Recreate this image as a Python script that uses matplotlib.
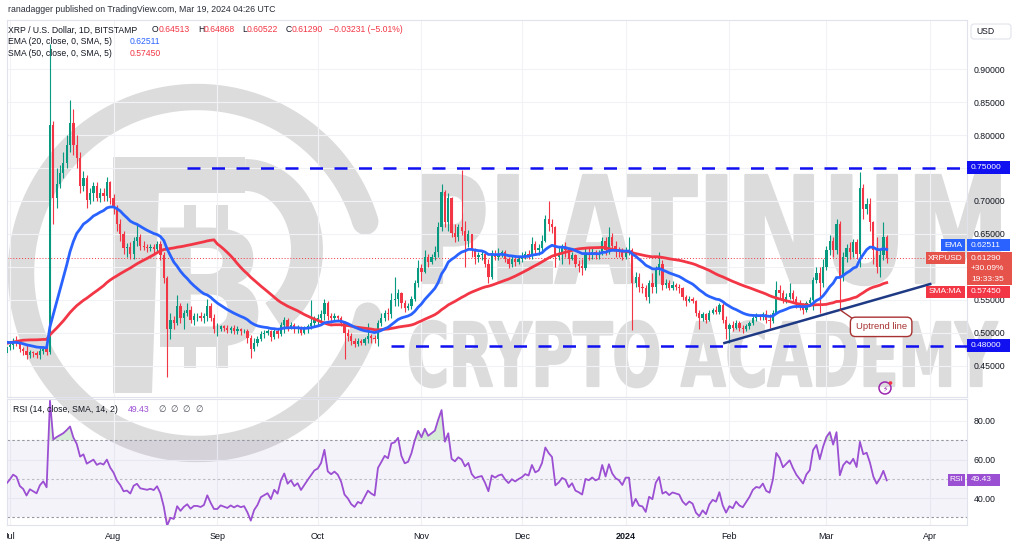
import numpy as np
import pandas as pd
import matplotlib
matplotlib.use("Agg")
import matplotlib.pyplot as plt
import matplotlib.dates as mdates
from matplotlib.patches import Rectangle, Polygon, Circle, FancyBboxPatch
from matplotlib.ticker import FuncFormatter, FormatStrFormatter
from matplotlib.transforms import Bbox, Affine2D
from matplotlib.patheffects import AbstractPathEffect

plt.rcParams['font.family'] = ['Liberation Sans', 'DejaVu Sans']

# ---- data -------------------------------------------------------------
# closes before the visible window (May 11 - Jun 29 2023), only used to warm up EMA/SMA/RSI
warmup_close = [0.420, 0.430, 0.428, 0.432, 0.440, 0.432, 0.452, 0.462, 0.468, 0.462,
                0.458, 0.462, 0.470, 0.460, 0.458, 0.468, 0.470, 0.478, 0.472, 0.500,
                0.518, 0.512, 0.522, 0.530, 0.538, 0.520, 0.530, 0.528, 0.520, 0.518,
                0.490, 0.510, 0.520, 0.518, 0.490, 0.478, 0.488, 0.482, 0.480, 0.482,
                0.490, 0.495, 0.502, 0.492, 0.484, 0.480, 0.478, 0.480, 0.472, 0.470]

first_day = '2023-06-30'
# daily candles (close, high, low); open = previous close
jul = [(0.478, 0.486, 0.466), (0.482, 0.488, 0.474), (0.487, 0.492, 0.476), (0.485, 0.495, 0.480),
       (0.476, 0.489, 0.471), (0.473, 0.479, 0.467), (0.466, 0.481, 0.460), (0.471, 0.474, 0.462),
       (0.469, 0.473, 0.464), (0.467, 0.472, 0.462), (0.473, 0.477, 0.461), (0.476, 0.480, 0.468),
       (0.471, 0.479, 0.466), (0.815, 0.938, 0.468), (0.705, 0.822, 0.665), (0.725, 0.750, 0.690),
       (0.742, 0.755, 0.720), (0.758, 0.775, 0.735), (0.785, 0.800, 0.750), (0.818, 0.853, 0.775),
       (0.785, 0.840, 0.770), (0.765, 0.800, 0.750), (0.722, 0.775, 0.712), (0.735, 0.745, 0.715),
       (0.702, 0.740, 0.690), (0.712, 0.720, 0.695), (0.722, 0.728, 0.700), (0.705, 0.728, 0.700),
       (0.712, 0.720, 0.698), (0.708, 0.720, 0.700), (0.728, 0.736, 0.700), (0.705, 0.730, 0.695)]
aug = [(0.690, 0.710, 0.680), (0.665, 0.694, 0.655), (0.650, 0.672, 0.640), (0.628, 0.655, 0.620),
       (0.630, 0.636, 0.615), (0.620, 0.638, 0.612), (0.640, 0.645, 0.612), (0.645, 0.666, 0.632),
       (0.632, 0.650, 0.625), (0.630, 0.640, 0.625), (0.628, 0.634, 0.622), (0.630, 0.634, 0.624),
       (0.627, 0.634, 0.620), (0.634, 0.640, 0.622), (0.618, 0.640, 0.610), (0.583, 0.622, 0.575),
       (0.505, 0.586, 0.433), (0.520, 0.530, 0.490), (0.515, 0.525, 0.505), (0.540, 0.557, 0.512),
       (0.522, 0.545, 0.515), (0.530, 0.535, 0.505), (0.535, 0.545, 0.525), (0.520, 0.540, 0.515),
       (0.525, 0.530, 0.512), (0.525, 0.530, 0.518), (0.522, 0.532, 0.518), (0.525, 0.530, 0.515),
       (0.540, 0.552, 0.518), (0.522, 0.545, 0.518), (0.505, 0.528, 0.500)]
sep = [(0.505, 0.515, 0.495), (0.510, 0.512, 0.502), (0.507, 0.512, 0.502), (0.504, 0.512, 0.500),
       (0.507, 0.510, 0.500), (0.503, 0.512, 0.498), (0.505, 0.510, 0.498), (0.502, 0.508, 0.497),
       (0.503, 0.506, 0.499), (0.492, 0.505, 0.485), (0.475, 0.496, 0.462), (0.485, 0.492, 0.472),
       (0.490, 0.495, 0.480), (0.498, 0.502, 0.487), (0.500, 0.504, 0.492), (0.502, 0.506, 0.496),
       (0.494, 0.504, 0.488), (0.503, 0.508, 0.490), (0.498, 0.508, 0.492), (0.512, 0.516, 0.495),
       (0.520, 0.524, 0.500), (0.508, 0.522, 0.502), (0.512, 0.516, 0.505), (0.505, 0.515, 0.500),
       (0.508, 0.512, 0.500), (0.500, 0.510, 0.497), (0.505, 0.510, 0.498), (0.510, 0.513, 0.500),
       (0.515, 0.550, 0.505), (0.520, 0.525, 0.510)]
oct_ = [(0.522, 0.528, 0.512), (0.528, 0.535, 0.515), (0.545, 0.552, 0.520), (0.525, 0.548, 0.520),
        (0.522, 0.530, 0.515), (0.525, 0.530, 0.518), (0.522, 0.527, 0.518), (0.515, 0.525, 0.510),
        (0.500, 0.518, 0.460), (0.495, 0.505, 0.488), (0.487, 0.500, 0.482), (0.483, 0.492, 0.478),
        (0.487, 0.492, 0.480), (0.485, 0.490, 0.481), (0.490, 0.494, 0.482), (0.495, 0.515, 0.485),
        (0.492, 0.498, 0.485), (0.490, 0.497, 0.484), (0.515, 0.520, 0.480), (0.522, 0.530, 0.510),
        (0.530, 0.535, 0.518), (0.528, 0.537, 0.520), (0.550, 0.560, 0.522), (0.552, 0.585, 0.540),
        (0.560, 0.566, 0.540), (0.545, 0.562, 0.538), (0.538, 0.550, 0.532), (0.540, 0.545, 0.535),
        (0.552, 0.556, 0.536), (0.575, 0.580, 0.548), (0.598, 0.610, 0.570)]
nov = [(0.592, 0.605, 0.578), (0.615, 0.625, 0.590), (0.608, 0.620, 0.600), (0.615, 0.620, 0.605),
       (0.622, 0.632, 0.610), (0.660, 0.668, 0.615), (0.714, 0.725, 0.655), (0.668, 0.716, 0.660),
       (0.705, 0.712, 0.655), (0.652, 0.706, 0.645), (0.646, 0.665, 0.638), (0.660, 0.665, 0.640),
       (0.655, 0.747, 0.648), (0.640, 0.670, 0.600), (0.650, 0.656, 0.630), (0.625, 0.650, 0.615),
       (0.615, 0.628, 0.605), (0.618, 0.622, 0.608), (0.620, 0.625, 0.610), (0.605, 0.622, 0.600),
       (0.585, 0.612, 0.575), (0.620, 0.625, 0.582), (0.615, 0.625, 0.610), (0.620, 0.628, 0.610),
       (0.622, 0.626, 0.615), (0.612, 0.625, 0.608), (0.605, 0.615, 0.598), (0.612, 0.618, 0.600),
       (0.608, 0.618, 0.602), (0.612, 0.616, 0.605)]
dec = [(0.615, 0.622, 0.608), (0.620, 0.624, 0.612), (0.618, 0.625, 0.612), (0.635, 0.645, 0.612),
       (0.625, 0.640, 0.618), (0.628, 0.635, 0.618), (0.640, 0.648, 0.622), (0.672, 0.678, 0.638),
       (0.665, 0.700, 0.655), (0.660, 0.672, 0.652), (0.615, 0.662, 0.600), (0.620, 0.632, 0.610),
       (0.628, 0.635, 0.605), (0.625, 0.638, 0.615), (0.612, 0.630, 0.605), (0.618, 0.622, 0.610),
       (0.605, 0.620, 0.600), (0.602, 0.610, 0.592), (0.598, 0.612, 0.588), (0.620, 0.628, 0.595),
       (0.618, 0.628, 0.610), (0.622, 0.628, 0.612), (0.618, 0.625, 0.612), (0.620, 0.625, 0.612),
       (0.640, 0.645, 0.618), (0.625, 0.645, 0.618), (0.645, 0.660, 0.620), (0.632, 0.652, 0.625),
       (0.625, 0.640, 0.615), (0.622, 0.630, 0.615), (0.615, 0.628, 0.610)]
jan = [(0.625, 0.630, 0.612), (0.625, 0.645, 0.618), (0.575, 0.628, 0.504), (0.585, 0.592, 0.570),
       (0.570, 0.590, 0.562), (0.568, 0.575, 0.560), (0.555, 0.572, 0.550), (0.575, 0.580, 0.545),
       (0.570, 0.590, 0.560), (0.595, 0.602, 0.560), (0.605, 0.622, 0.588), (0.572, 0.610, 0.565),
       (0.575, 0.582, 0.568), (0.568, 0.580, 0.565), (0.572, 0.578, 0.565), (0.570, 0.576, 0.565),
       (0.568, 0.574, 0.560), (0.555, 0.570, 0.550), (0.548, 0.558, 0.540), (0.552, 0.556, 0.546),
       (0.548, 0.555, 0.545), (0.530, 0.550, 0.525), (0.522, 0.535, 0.505), (0.528, 0.532, 0.518),
       (0.520, 0.530, 0.515), (0.530, 0.534, 0.518), (0.535, 0.538, 0.528), (0.532, 0.540, 0.528),
       (0.542, 0.545, 0.528), (0.520, 0.545, 0.515), (0.505, 0.525, 0.490)]
feb = [(0.512, 0.515, 0.485), (0.508, 0.518, 0.503), (0.515, 0.520, 0.505), (0.508, 0.518, 0.502),
       (0.505, 0.512, 0.500), (0.510, 0.514, 0.502), (0.515, 0.518, 0.505), (0.522, 0.525, 0.512),
       (0.525, 0.530, 0.518), (0.524, 0.528, 0.520), (0.528, 0.532, 0.520), (0.520, 0.535, 0.515),
       (0.518, 0.528, 0.508), (0.530, 0.535, 0.515), (0.565, 0.578, 0.528), (0.560, 0.572, 0.552),
       (0.550, 0.565, 0.545), (0.555, 0.560, 0.545), (0.560, 0.575, 0.552), (0.552, 0.565, 0.545),
       (0.545, 0.556, 0.538), (0.540, 0.550, 0.535), (0.535, 0.545, 0.528), (0.545, 0.548, 0.532),
       (0.550, 0.554, 0.540), (0.580, 0.585, 0.535), (0.590, 0.600, 0.575), (0.575, 0.600, 0.530),
       (0.600, 0.612, 0.570)]
mar = [(0.625, 0.632, 0.595), (0.640, 0.648, 0.618), (0.625, 0.645, 0.615), (0.665, 0.672, 0.620),
       (0.585, 0.670, 0.535), (0.615, 0.622, 0.578), (0.628, 0.635, 0.608), (0.622, 0.638, 0.612),
       (0.638, 0.642, 0.615), (0.620, 0.642, 0.612), (0.720, 0.744, 0.600), (0.688, 0.725, 0.672),
       (0.695, 0.705, 0.680), (0.668, 0.705, 0.655), (0.625, 0.670, 0.605), (0.600, 0.645, 0.590),
       (0.618, 0.625, 0.585), (0.64513, 0.668, 0.610), (0.6129, 0.64868, 0.60522)]

# values printed in the legends / price scale
ohlc_text = ['0.64513', '0.64868', '0.60522', '0.61290']
change_text = '\u22120.03231 (\u22125.01%)'
ema_last, sma_last, rsi_last = 0.62511, 0.57450, 49.43
levels = [0.75, 0.48]
level_start = ['2023-08-23', '2023-10-23']
trend_dates = ['2024-01-30 12:00', '2024-04-01 00:00']
trend_prices = [0.4845, 0.574]
month_ticks = ['2023-07-01', '2023-08-01', '2023-09-01', '2023-10-01', '2023-11-01',
               '2023-12-01', '2024-01-01', '2024-02-01', '2024-03-01', '2024-04-01']
month_labels = ['Jul', 'Aug', 'Sep', 'Oct', 'Nov', 'Dec', '2024', 'Feb', 'Mar', 'Apr']

# ---- series -----------------------------------------------------------
candles = jul + aug + sep + oct_ + nov + dec + jan + feb + mar
close = np.array([c[0] for c in candles])
high = np.array([c[1] for c in candles])
low = np.array([c[2] for c in candles])
opens = np.r_[warmup_close[-1], close[:-1]]
high = np.maximum(high, np.maximum(opens, close))
low = np.minimum(low, np.minimum(opens, close))
dates = pd.date_range(first_day, periods=len(candles), freq='D')
xd = mdates.date2num(dates)

full = pd.Series(np.r_[warmup_close, close])
n = len(close)
ema = full.ewm(span=20, adjust=False).mean().values[-n:]
sma = full.rolling(50).mean().values[-n:]
delta = full.diff()
gain = delta.clip(lower=0).ewm(alpha=1/14, adjust=False).mean()
loss = (-delta.clip(upper=0)).ewm(alpha=1/14, adjust=False).mean()
rsi = (100 - 100 / (1 + gain / loss)).values[-n:]

# ---- figure -----------------------------------------------------------
W, H = 1024, 547
GREEN, RED = '#089981', '#f23645'
BLUE = '#2962ff'
LVL = '#1010f0'
PURPLE = '#9b4fd2'
TXT = '#131722'
GRID = '#f0f2f6'
EDGE = '#e0e3eb'
WM = '#dcdcdc'
PX_DAY = 3.347

fig = plt.figure(figsize=(W / 100, H / 100), dpi=100, facecolor='white')
bg = fig.add_axes([0, 0, 1, 1], zorder=0)
bg.set_xlim(0, W); bg.set_ylim(H, 0); bg.axis('off')
ax = fig.add_axes([7 / W, 1 - 397 / H, 960 / W, 377 / H], zorder=2)
rax = fig.add_axes([7 / W, 1 - 525 / H, 960 / W, 126 / H], zorder=2, sharex=ax)
ov = fig.add_axes([0, 0, 1, 1], zorder=5)
ov.set_xlim(0, W); ov.set_ylim(H, 0); ov.axis('off')
rend = fig.canvas.get_renderer()


class Tall(AbstractPathEffect):
    """stretch glyphs vertically about the baseline yb (display px) and thicken them a bit"""
    def __init__(self, sy, yb, lw):
        super().__init__()
        self.sy, self.yb, self.lw = sy, yb, lw

    def draw_path(self, renderer, gc, tpath, affine, rgbFace=None):
        aff = affine + Affine2D().translate(0, -self.yb).scale(1, self.sy).translate(0, self.yb)
        gc0 = renderer.new_gc()
        gc0.copy_properties(gc)
        gc0.set_linewidth(self.lw)
        gc0.set_foreground(rgbFace)
        gc0.set_joinstyle('round')
        renderer.draw_path(gc0, tpath, aff, rgbFace)
        gc0.restore()


# watermark
th = np.radians(np.linspace(17, 346, 300))
bg.plot(197 + 176 * np.cos(th), 273 - 176 * np.sin(th), color=WM, lw=19, solid_capstyle='round')
bg.add_patch(Polygon([(113, 157), (160, 157), (152, 393), (113, 393)], color=WM, lw=0))
bg.add_patch(Rectangle((113, 157), 132, 36, color=WM, lw=0))
tb = np.radians(np.linspace(90, -62, 100))
bg.plot(245 + 62 * np.cos(tb), 250 - 75 * np.sin(tb), color=WM, lw=23, solid_capstyle='butt')
bg.text(207, 347, 'B', fontsize=118, fontweight='bold', family='DejaVu Sans', color=WM,
        ha='center', va='baseline')
for bx in (190, 222):
    bg.add_patch(Rectangle((bx - 6, 205), 12, 24, color=WM, lw=0))
    bg.add_patch(Rectangle((bx - 6, 344), 12, 24, color=WM, lw=0))


def fit_text(x0, x1, base, cap, s):
    t = bg.text(x0, base, s, fontsize=50, fontweight='bold', color=WM, ha='left',
                va='baseline', family='DejaVu Sans')
    w = t.get_window_extent(rend).width
    size = 50 * (x1 - x0) / w
    t.set_fontsize(size)
    sy = cap / (0.729 * size * 100 / 72)
    t.set_path_effects([Tall(sy, H - base, 1.6)])


fit_text(413, 1010, 283, 108, 'PLATINUM')
fit_text(407, 998, 386, 64, 'CRYPTO ACADEMY')

# axes setup
x_left = mdates.date2num(pd.Timestamp('2023-07-01')) - 2.8 / PX_DAY
x_right = x_left + 960 / PX_DAY
ax.set_xlim(x_left, x_right)
ax.set_ylim(0.4026, 0.9745)
rax.set_ylim(26.1, 91.4)
for a in (ax, rax):
    a.set_facecolor('none')
    for sp in a.spines.values():
        sp.set_color(EDGE)
        sp.set_linewidth(0.8)
    a.yaxis.tick_right()
    a.tick_params(axis='y', length=0, pad=5, labelsize=6.3, labelcolor=TXT)
    a.grid(True, color=GRID, lw=0.8, zorder=0)
    a.set_axisbelow(True)

ax.set_yticks(np.arange(0.45, 0.901, 0.05))
# the 0.60000 label sits under the last-price tag, as on the reference
ax.yaxis.set_major_formatter(FuncFormatter(lambda v, p: '' if abs(v - 0.60) < 1e-6 else f'{v:.5f}'))
ax.tick_params(axis='x', length=0, labelbottom=False)
rax.set_yticks([40, 60, 80])
rax.yaxis.set_major_formatter(FormatStrFormatter('%.2f'))
rax.set_xticks(mdates.date2num(pd.to_datetime(month_ticks)))
rax.set_xticklabels(month_labels)
rax.tick_params(axis='x', length=0, pad=5, labelsize=6.5, labelcolor=TXT)
clip = Bbox([[7, 0], [967, H]])
for i, lbl in enumerate(rax.get_xticklabels()):
    if month_labels[i] == '2024':
        lbl.set_fontweight('bold')
    lbl.set_clip_box(clip)
    lbl.set_clip_on(True)

# candles
col = np.where(close >= opens, GREEN, RED)
ax.vlines(xd, low, high, colors=col, lw=0.8, zorder=3)
body = np.maximum(np.abs(close - opens), 0.0012)
ax.bar(xd, body, bottom=np.minimum(opens, close), width=0.68, color=col, lw=0, zorder=4)

ax.plot(xd, sma, color=RED, lw=2.0, zorder=5)
ax.plot(xd, ema, color=BLUE, lw=2.0, zorder=5)
ax.axhline(close[-1], color=RED, lw=0.7, ls=(0, (1, 2)), zorder=2)

for lvl, st in zip(levels, level_start):
    ax.plot([mdates.date2num(pd.Timestamp(st)), x_right], [lvl, lvl], color=LVL, lw=1.8,
            dashes=(5.2, 4.6), dash_capstyle='butt', zorder=6)

ax.plot([mdates.date2num(pd.Timestamp(d)) for d in trend_dates], trend_prices,
        color='#1f3a84', lw=1.8, zorder=6)
ax.annotate('Uptrend line', xy=(mdates.date2num(pd.Timestamp('2024-03-05')), 0.535),
            xytext=(mdates.date2num(pd.Timestamp('2024-03-17 08:00')), 0.509),
            ha='center', va='center', fontsize=6.8, color='#a83232', zorder=7,
            bbox=dict(boxstyle='round,pad=0.55', fc='white', ec='#a83232', lw=1.0),
            arrowprops=dict(arrowstyle='-', color='#a83232', lw=1.0, shrinkA=0, shrinkB=0,
                            relpos=(0.06, 0.95)))

# RSI pane
rax.axhspan(30, 70, color='#7e57c2', alpha=0.07, lw=0, zorder=1)
for lv, al in [(70, 1.0), (50, 0.6), (30, 1.0)]:
    rax.axhline(lv, color='#9598a1', lw=0.8, dashes=(2.2, 2.2), alpha=al, zorder=2)
rax.fill_between(xd, 70, rsi, where=rsi > 70, interpolate=True, color='#4caf50', alpha=0.22, lw=0)
rax.fill_between(xd, 30, rsi, where=rsi < 30, interpolate=True, color=RED, alpha=0.15, lw=0)
rax.plot(xd, rsi, color=PURPLE, lw=1.3, zorder=4)


# ---- overlay texts / tags ----------------------------------------------
def py(a, v):
    return H - a.transData.transform((x_left, v))[1]


def box(x0, x1, yc, h, color, text, ha='left'):
    ov.add_patch(Rectangle((x0, yc - h / 2), x1 - x0, h, color=color, lw=0))
    tx = x0 + 4 if ha == 'left' else (x0 + x1) / 2
    ov.text(tx, yc, text, color='white', fontsize=6.0, ha=ha, va='center')


ov.text(8, 10, 'ranadagger published on TradingView.com, Mar 19, 2024 04:26 UTC',
        fontsize=6.3, color='#2a2e39', va='center')
head = [('XRP / U.S. Dollar, 1D, BITSTAMP', 8, TXT), ('O', 152, TXT), (ohlc_text[0], 159, RED),
        ('H', 198, TXT), (ohlc_text[1], 204, RED), ('L', 242, TXT), (ohlc_text[2], 247, RED),
        ('C', 286, TXT), (ohlc_text[3], 292, RED), (change_text, 329, RED)]
for s, x, c in head:
    ov.text(x, 30, s, fontsize=6.2, color=c, va='center')
ov.text(8, 42, 'EMA (20, close, 0, SMA, 5)', fontsize=6.2, color=TXT, va='center')
ov.text(130, 42, f'{ema_last:.5f}', fontsize=6.2, color=BLUE, va='center')
ov.text(8, 54, 'SMA (50, close, 0, SMA, 5)', fontsize=6.2, color=TXT, va='center')
ov.text(130, 54, f'{sma_last:.5f}', fontsize=6.2, color=RED, va='center')

ov.text(13, 410, 'RSI (14, close, SMA, 14, 2)', fontsize=6.2, color=TXT, va='center')
ov.text(128, 410, f'{rsi_last:.2f}', fontsize=6.2, color=PURPLE, va='center')
for x in (158, 170, 182, 195):
    ov.text(x, 410, '\u2205', fontsize=6.2, color='#50535e', va='center', family='DejaVu Sans')

ov.add_patch(FancyBboxPatch((971, 24), 40, 15, boxstyle='round,pad=0,rounding_size=3',
                            fc='white', ec=EDGE, lw=0.8))
ov.text(976, 31.5, 'USD', fontsize=6.2, color=TXT, va='center')

for lvl in levels:
    box(967, 1010, py(ax, lvl), 13, LVL, f'{lvl:.5f}')

y_ema = py(ax, ema_last) - 5
box(941, 965, y_ema, 12, BLUE, 'EMA', ha='center')
box(967, 1010, y_ema, 12, BLUE, f'{ema_last:.5f}')

y_px = py(ax, close[-1])
ov.add_patch(Rectangle((926, y_px - 6), 39, 12, color='#e5534b', lw=0))
ov.text(945.5, y_px, 'XRPUSD', color='white', fontsize=6.0, ha='center', va='center')
ov.add_patch(Rectangle((967, y_px - 6), 45, 33, color='#e5534b', lw=0))
for k, s in enumerate([ohlc_text[3], '+30.09%', '19:33:35']):
    ov.text(971, y_px + k * 10.5, s, color='white', fontsize=6.0, va='center')

y_sma = py(ax, sma_last) + 8
box(926, 965, y_sma, 12, RED, 'SMA:MA', ha='center')
box(967, 1010, y_sma, 12, RED, f'{sma_last:.5f}')

y_rsi = py(rax, rsi_last)
box(948, 965, y_rsi, 12, PURPLE, 'RSI', ha='center')
box(967, 1000, y_rsi, 12, PURPLE, f'{rsi_last:.2f}')

# lightning icon
ov.add_patch(Circle((885, 388), 6, fill=False, ec='#9c27b0', lw=1.1))
ov.text(885, 388.5, '\u26a1', fontsize=5.5, color='#9c27b0', ha='center', va='center',
        family='DejaVu Sans')
ov.add_patch(Circle((890.5, 383), 1.8, color=RED, lw=0))

fig.savefig('out.png', dpi=100, facecolor='white')
